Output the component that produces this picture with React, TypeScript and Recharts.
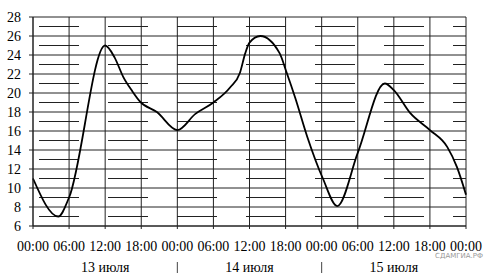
import React from 'react';
import { LineChart, Line, XAxis, YAxis, CartesianGrid } from 'recharts';

const hours = [0, 4.2, 6, 12, 13.6, 15, 16.5, 17.8, 20.6, 24, 27, 30, 32.8, 34.4, 35.3, 36, 37.8, 41, 42.2, 43.6, 45.6, 48.2, 50.6, 54, 58.5, 60, 62.7, 66, 68.9, 70.5, 72];
const temps = [11, 7, 9, 25, 23.7, 21.7, 20.2, 19.1, 18, 16.1, 17.8, 19, 20.6, 22.1, 24.2, 25.3, 26, 24.2, 22.1, 19.5, 15.4, 11, 8.1, 13.7, 21, 20.3, 17.9, 16.1, 14.3, 12.2, 9.3];

const xTicks = [0, 6, 12, 18, 24, 30, 36, 42, 48, 54, 60, 66, 72];
const timeLabels = ['00:00', '06:00', '12:00', '18:00'];
const yTicks = [6, 8, 10, 12, 14, 16, 18, 20, 22, 24, 26, 28];
const yMinor = [7, 9, 11, 13, 15, 17, 19, 21, 23, 25, 27];
const dayCenters = [12, 36, 60];
const dayLabels = ['13 июля', '14 июля', '15 июля'];
const daySeparators = [24, 48];
const watermark = 'СДАМГИА.РФ';

const data = hours.map((h, i) => ({ h, t: temps[i] }));

const FONT = '"Liberation Serif", "Times New Roman", serif';

const XTick = (props: any) => {
  const { x, y, payload } = props;
  const v = payload.value as number;
  const label = timeLabels[Math.round(v / 6) % 4];
  const dayIdx = dayCenters.indexOf(v);
  const isSep = daySeparators.indexOf(v) >= 0;
  return (
    <g>
      <text x={x} y={y + 22} textAnchor="middle" fontSize={14} fontFamily={FONT} fill="#000">
        {label}
      </text>
      {dayIdx >= 0 && (
        <text x={x} y={y + 43} textAnchor="middle" fontSize={14} fontFamily={FONT} fill="#000">
          {dayLabels[dayIdx]}
        </text>
      )}
      {isSep && <line x1={x} x2={x} y1={y + 33} y2={y + 44} stroke="#444" strokeWidth={1} />}
    </g>
  );
};

export default function App() {
  return (
    <div style={{ position: 'fixed', left: 0, top: 0, width: 491, height: 279, background: '#fff' }}>
      <LineChart width={491} height={279} data={data} margin={{ top: 17, right: 25, bottom: 0, left: 0 }}>
        <CartesianGrid
          horizontalValues={yMinor}
          vertical={false}
          stroke="#222"
          strokeDasharray="0 6 40 23"
        />
        <CartesianGrid
          horizontalValues={yTicks}
          verticalValues={xTicks}
          stroke="#222"
        />
        <XAxis
          dataKey="h"
          type="number"
          domain={[0, 72]}
          ticks={xTicks}
          interval={0}
          height={53}
          tickSize={3}
          tickMargin={0}
          stroke="#222"
          tick={<XTick />}
        />
        <YAxis
          type="number"
          domain={[6, 28]}
          ticks={yTicks}
          interval={0}
          width={33}
          tickSize={4}
          tickMargin={8}
          stroke="#222"
          tick={{ fontSize: 14, fill: '#000', fontFamily: FONT }}
        />
        <Line
          dataKey="t"
          type="monotone"
          stroke="#000"
          strokeWidth={1.8}
          dot={false}
          isAnimationActive={false}
        />
      </LineChart>
      <div
        style={{
          position: 'absolute',
          right: 8,
          top: 252,
          fontSize: 7,
          lineHeight: '8px',
          fontFamily: '"DejaVu Sans", sans-serif',
          color: '#999',
          whiteSpace: 'nowrap',
        }}
      >
        {watermark}
      </div>
    </div>
  );
}
